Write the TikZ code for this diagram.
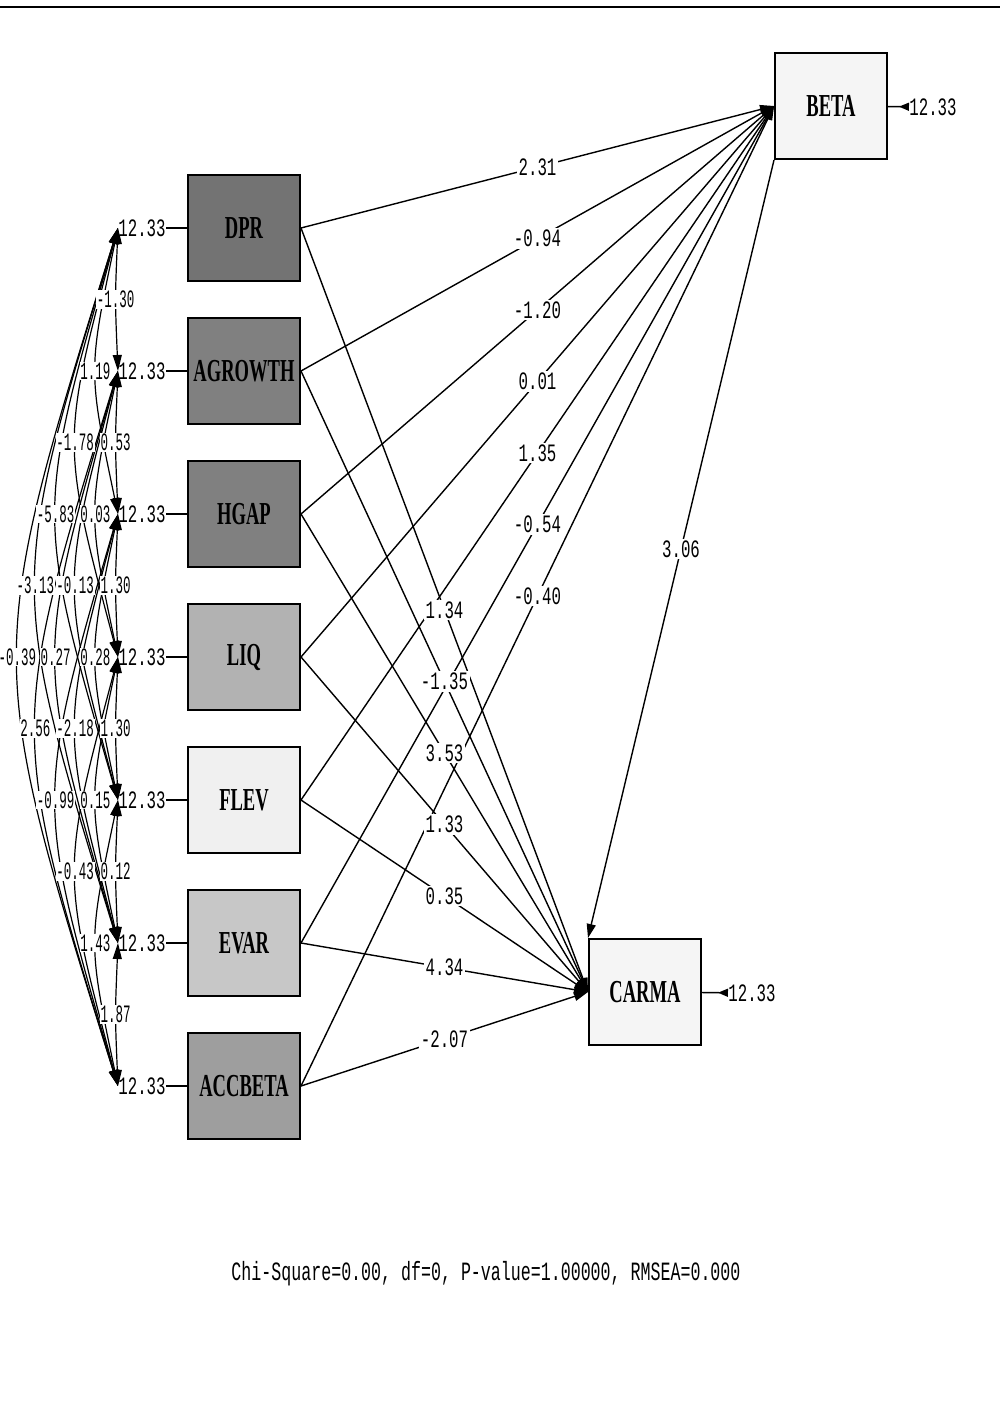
\documentclass[tikz,border=0pt]{standalone}
\usepackage{fontspec}
\usetikzlibrary{arrows.meta}
\newfontfamily\numfont[FakeStretch=0.63]{Liberation Mono}
\newfontfamily\covfont[FakeStretch=0.5]{Liberation Mono}
\newfontfamily\boxfont[FakeStretch=0.58]{Liberation Serif}

\begin{document}
\begin{tikzpicture}
		[x=0.5pt, y=-0.5pt,
		 obs/.style={rectangle, draw=black, line width=1pt, minimum width=56pt, minimum height=53pt, inner sep=0pt, font=\boxfont\fontsize{16}{18}\selectfont\bfseries},
		 est/.style={fill=white, inner sep=0.8pt, font=\numfont\fontsize{12.5}{14}\selectfont},
		 covest/.style={fill=white, inner sep=0.4pt, font=\covfont\fontsize{12.5}{14}\selectfont},
		 errv/.style={inner sep=0pt, font=\numfont\fontsize{12.5}{14}\selectfont},
		 effect/.style={line width=0.7pt, -{Triangle[length=7pt, width=4.5pt]}},
		 errtip/.style={line width=0.7pt, -{Triangle[reversed, length=5pt, width=4pt]}},
		 cov/.style={line width=0.6pt, {Triangle[length=8pt, width=4.5pt]}-{Triangle[length=8pt, width=4.5pt]}}]
		\useasboundingbox (0,0) rectangle (1000,1416);
		\draw[line width=1pt] (0,7) -- (1000,7);

		% exogenous variables with their variances
		\foreach \n/\y/\g [count=\k from 0] in {DPR/228/55, AGROWTH/371/50, HGAP/514/50, LIQ/657/30, FLEV/800/6, EVAR/943/22, ACCBETA/1086/38}{
			\node[obs, fill=black!\g] (\n) at (244,\y) {\n};
			\node[errv] (var\k) at (142,\y) {12.33};
			\draw[line width=0.7pt] (var\k) -- (\n);
		}

		\node[obs, fill=black!4] (BETA) at (831,106) {BETA};
		\node[obs, fill=black!4] (CARMA) at (645,992) {CARMA};
		\node[errv] (eBETA) at (933,107) {12.33};
		\node[errv] (eCARMA) at (752,993) {12.33};
		\draw[errtip] (BETA) -- (eBETA);
		\draw[errtip] (CARMA) -- (eCARMA);

		% covariances: arcs first, values on top
		\def\covs{0/1/-1.30, 0/2/1.19, 0/3/-1.78, 1/2/0.53, 0/4/-5.83, 1/3/0.03, 0/5/-3.13, 1/4/-0.13, 2/3/1.30, 0/6/-0.39, 1/5/0.27, 2/4/0.28, 1/6/2.56, 2/5/-2.18, 3/4/1.30, 2/6/-0.99, 3/5/0.15, 3/6/-0.43, 4/5/0.12, 4/6/1.43, 5/6/1.87}
		\foreach \i/\j/\r in \covs{
			\pgfmathsetmacro\ym{228+71.5*(\i+\j)}
			\pgfmathsetmacro\cx{{115,88,61,35,8,-16}[\j-\i-1]}
			\draw[cov] (var\i.west) .. controls (\cx,\ym) .. coordinate[midway] (k\i\j) (var\j.west);
		}
		\foreach \i/\j/\r in \covs
			\node[covest] at (k\i\j) {\r};

		% structural paths
		\def\effects{DPR/2.31/1.34, AGROWTH/-0.94/-1.35, HGAP/-1.20/3.53, LIQ/0.01/1.33, FLEV/1.35/0.35, EVAR/-0.54/4.34, ACCBETA/-0.40/-2.07}
		\foreach \n/\b/\c in \effects{
			\draw[effect] (\n.east) -- coordinate[midway] (b\n) (BETA.west);
			\draw[effect] (\n.east) -- coordinate[midway] (c\n) (CARMA.west);
		}
		\draw[effect] (BETA.south west) -- node[est, midway] {3.06} (CARMA.north west);
		\foreach \n/\b/\c in \effects{
			\node[est] at (b\n) {\b};
			\node[est] at (c\n) {\c};
		}

		\node[font=\numfont\fontsize{13.2}{15}\selectfont] (fit) at (486,1274) {Chi-Square=0.00, df=0, P-value=1.00000, RMSEA=0.000};
	\end{tikzpicture}
\end{document}
